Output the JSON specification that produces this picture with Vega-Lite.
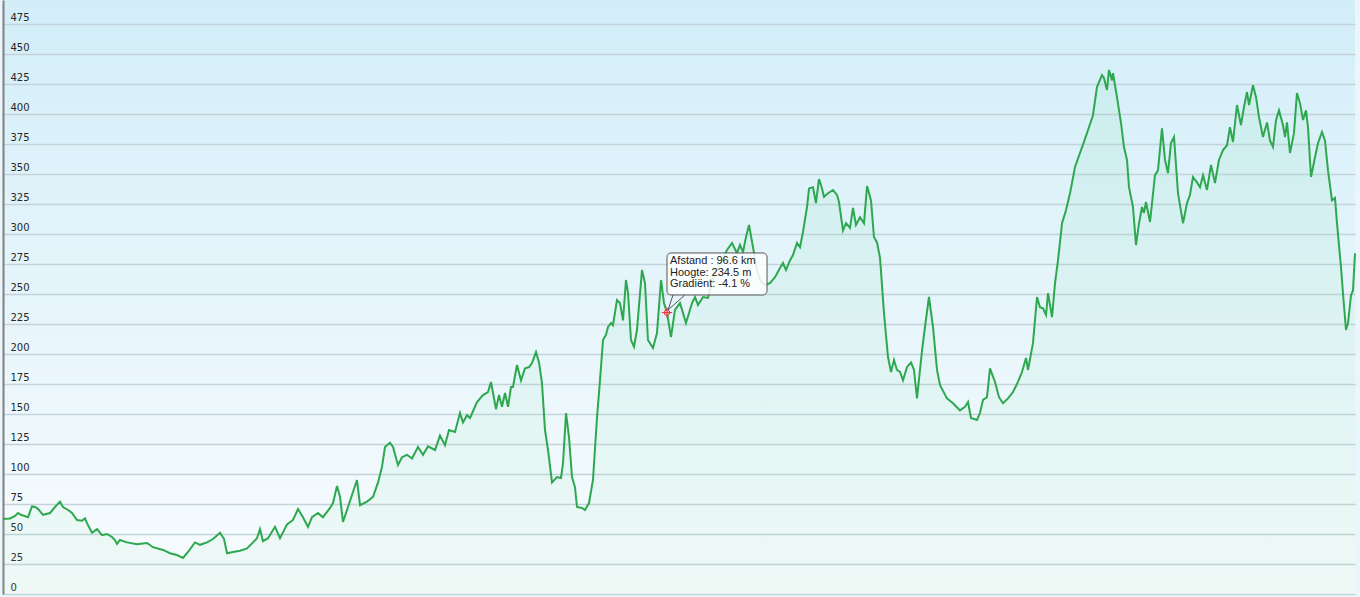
{
  "$schema": "https://vega.github.io/schema/vega-lite/v6.json",
  "width": 1352,
  "height": 594,
  "autosize": {"type": "none"},
  "padding": {"left": 3, "top": 0, "right": 5, "bottom": 3},
  "background": "#eaf6fb",
  "config": {
    "view": {"stroke": null, "fill": {"gradient": "linear", "x1": 0, "y1": 0, "x2": 0, "y2": 1, "stops": [{"offset": 0, "color": "#d2eef9"}, {"offset": 0.5, "color": "#e6f5fb"}, {"offset": 1, "color": "#f8fcfe"}]}},
    "axisY": {"labelOverlap": false, "labelBound": false, "domain": true, "domainColor": "#808080", "domainWidth": 2, "ticks": false, "tickSize": 0,
      "labelAlign": "left", "labelBaseline": "alphabetic", "labelPadding": -7, "labelOffset": -4,
      "labelFont": "DejaVu Sans", "labelFontSize": 10, "labelColor": "#262626",
      "grid": true, "gridColor": "#c4d3d9", "gridWidth": 1.5, "title": null}
  },
  "datasets": {
    "profile": [
      {"km":0,"h":62.5},{"km":1.02,"h":63},{"km":1.75,"h":65},{"km":2.18,"h":67.5},{"km":2.62,"h":66},{"km":3.64,"h":64},{"km":4.22,"h":73},{"km":4.66,"h":72.5},{"km":5.09,"h":71},{"km":5.82,"h":66},{"km":6.84,"h":67.5},{"km":7.56,"h":72.5},{"km":8.29,"h":77},{"km":8.73,"h":72.5},{"km":9.46,"h":70},{"km":10.04,"h":67.5},{"km":10.77,"h":61.7},{"km":11.49,"h":61},{"km":11.93,"h":63},{"km":12.22,"h":59},{"km":12.95,"h":51},{"km":13.68,"h":54},{"km":14.40,"h":49},{"km":15.13,"h":50},{"km":15.86,"h":47.5},{"km":16.29,"h":45},{"km":16.58,"h":41.7},{"km":17.02,"h":45},{"km":18.04,"h":43},{"km":19.49,"h":41.5},{"km":20.95,"h":42.5},{"km":21.82,"h":39},{"km":23.28,"h":36.7},{"km":24.30,"h":34},{"km":25.31,"h":32.5},{"km":26.19,"h":30},{"km":26.91,"h":35},{"km":27.93,"h":43},{"km":28.66,"h":41},{"km":29.68,"h":43},{"km":30.55,"h":45.8},{"km":31.57,"h":51},{"km":32.15,"h":46},{"km":32.59,"h":34},{"km":33.46,"h":35},{"km":34.48,"h":36},{"km":35.50,"h":38},{"km":36.37,"h":43},{"km":36.95,"h":46.5},{"km":37.39,"h":54},{"km":37.82,"h":44},{"km":38.55,"h":46.5},{"km":39.57,"h":56},{"km":40.30,"h":46.5},{"km":41.32,"h":58},{"km":42.19,"h":61.7},{"km":42.92,"h":70.8},{"km":43.64,"h":64},{"km":44.37,"h":56},{"km":44.95,"h":64},{"km":45.83,"h":67.5},{"km":46.55,"h":64},{"km":47.57,"h":71.7},{"km":48.01,"h":75.8},{"km":48.59,"h":90},{"km":49.03,"h":81},{"km":49.46,"h":60},{"km":50.19,"h":72.5},{"km":50.92,"h":85},{"km":51.50,"h":95},{"km":51.94,"h":74},{"km":52.95,"h":77},{"km":53.83,"h":81},{"km":54.56,"h":93},{"km":55.14,"h":106},{"km":55.57,"h":122.5},{"km":56.30,"h":126},{"km":56.74,"h":122.5},{"km":57.46,"h":107.5},{"km":58.05,"h":114},{"km":58.77,"h":116},{"km":59.50,"h":113},{"km":60.37,"h":122.5},{"km":61.10,"h":116},{"km":61.83,"h":123},{"km":62.85,"h":120},{"km":63.57,"h":132},{"km":64.30,"h":124},{"km":64.88,"h":136.7},{"km":65.76,"h":135},{"km":66.48,"h":150.8},{"km":66.92,"h":143},{"km":67.50,"h":149},{"km":67.94,"h":146.7},{"km":68.96,"h":160},{"km":69.83,"h":165.8},{"km":70.56,"h":168.3},{"km":70.99,"h":176.7},{"km":71.29,"h":167.5},{"km":71.72,"h":154},{"km":72.16,"h":165.8},{"km":72.59,"h":156},{"km":73.03,"h":167.5},{"km":73.47,"h":156},{"km":73.90,"h":172.5},{"km":74.19,"h":172.5},{"km":74.78,"h":190.8},{"km":75.36,"h":178},{"km":75.94,"h":188},{"km":76.52,"h":189},{"km":76.96,"h":192.5},{"km":77.54,"h":201.7},{"km":77.98,"h":193},{"km":78.41,"h":175.8},{"km":78.85,"h":136.7},{"km":79.29,"h":120},{"km":79.87,"h":93},{"km":80.60,"h":97.5},{"km":81.18,"h":96.7},{"km":81.47,"h":109},{"km":81.91,"h":150.8},{"km":82.34,"h":131},{"km":82.78,"h":97.5},{"km":83.21,"h":89},{"km":83.51,"h":72.5},{"km":84.23,"h":71.7},{"km":84.67,"h":70},{"km":85.25,"h":75.8},{"km":85.83,"h":95},{"km":86.42,"h":147.5},{"km":86.85,"h":178},{"km":87.29,"h":211.7},{"km":87.72,"h":216},{"km":88.02,"h":222.5},{"km":88.45,"h":225.8},{"km":88.74,"h":224},{"km":89.32,"h":245},{"km":89.76,"h":242.5},{"km":90.20,"h":228},{"km":90.63,"h":261.7},{"km":90.93,"h":250.8},{"km":91.36,"h":211.7},{"km":91.80,"h":206},{"km":92.23,"h":220},{"km":92.96,"h":270},{"km":93.40,"h":259},{"km":93.83,"h":211.7},{"km":94.56,"h":205},{"km":95.14,"h":217.5},{"km":95.73,"h":261.7},{"km":96.16,"h":242.5},{"km":96.60,"h":234.5},{"km":97.18,"h":214},{"km":97.76,"h":236.7},{"km":98.49,"h":242.5},{"km":99.36,"h":225.8},{"km":100.24,"h":242.5},{"km":100.67,"h":247.5},{"km":101.11,"h":240.8},{"km":101.84,"h":247.5},{"km":102.56,"h":246.7},{"km":103.15,"h":260},{"km":103.58,"h":268},{"km":104.60,"h":278},{"km":105.33,"h":286.7},{"km":106.06,"h":292.5},{"km":106.78,"h":284},{"km":107.22,"h":290.8},{"km":107.66,"h":285},{"km":108.09,"h":297.5},{"km":108.53,"h":307.5},{"km":109.11,"h":289},{"km":109.69,"h":270},{"km":110.13,"h":261.7},{"km":110.86,"h":257.5},{"km":111.58,"h":259},{"km":112.31,"h":264},{"km":113.04,"h":271.7},{"km":113.47,"h":275.8},{"km":113.91,"h":270},{"km":114.49,"h":278},{"km":114.93,"h":282.5},{"km":115.51,"h":292.5},{"km":115.95,"h":289},{"km":116.38,"h":301.7},{"km":116.97,"h":322.5},{"km":117.26,"h":338},{"km":117.84,"h":339},{"km":118.27,"h":325.8},{"km":118.71,"h":345.8},{"km":119.15,"h":338},{"km":119.44,"h":331},{"km":120.02,"h":334},{"km":120.75,"h":336.7},{"km":121.33,"h":332.5},{"km":121.62,"h":326.7},{"km":122.20,"h":303},{"km":122.64,"h":309},{"km":123.22,"h":305},{"km":123.66,"h":321.7},{"km":124.09,"h":307.5},{"km":124.68,"h":314},{"km":125.26,"h":309},{"km":125.70,"h":340},{"km":126.28,"h":328},{"km":126.71,"h":297.5},{"km":127.15,"h":293},{"km":127.59,"h":280},{"km":128.17,"h":234},{"km":128.75,"h":197.5},{"km":129.19,"h":185},{"km":129.62,"h":195},{"km":130.06,"h":186.7},{"km":130.50,"h":185},{"km":130.93,"h":178},{"km":131.51,"h":189},{"km":132.10,"h":193},{"km":132.53,"h":186.7},{"km":132.97,"h":163},{"km":133.70,"h":203},{"km":134.13,"h":222.5},{"km":134.71,"h":247.5},{"km":135.30,"h":222.5},{"km":135.88,"h":186.7},{"km":136.32,"h":174},{"km":137.33,"h":163},{"km":138.21,"h":159},{"km":139.22,"h":153},{"km":139.95,"h":156},{"km":140.39,"h":160},{"km":140.82,"h":146.7},{"km":141.70,"h":145},{"km":142.13,"h":150.8},{"km":142.57,"h":161.7},{"km":143.15,"h":164},{"km":143.59,"h":188},{"km":144.32,"h":176.7},{"km":144.90,"h":164},{"km":145.48,"h":159},{"km":146.21,"h":163},{"km":146.93,"h":168.3},{"km":147.66,"h":176.7},{"km":148.24,"h":185},{"km":148.83,"h":196.7},{"km":149.12,"h":186.7},{"km":149.84,"h":209},{"km":150.43,"h":247.5},{"km":150.86,"h":239},{"km":151.30,"h":238},{"km":151.74,"h":232.5},{"km":152.03,"h":250.8},{"km":152.61,"h":230.8},{"km":153.05,"h":259},{"km":153.48,"h":278},{"km":154.07,"h":309},{"km":154.65,"h":320},{"km":155.23,"h":334},{"km":155.96,"h":355.8},{"km":156.68,"h":367.5},{"km":157.26,"h":376.7},{"km":157.85,"h":386.7},{"km":158.57,"h":399},{"km":159.15,"h":422.5},{"km":159.88,"h":432.5},{"km":160.17,"h":430},{"km":160.61,"h":420},{"km":160.90,"h":436.7},{"km":161.34,"h":428},{"km":161.48,"h":434},{"km":162.06,"h":414},{"km":162.65,"h":392.5},{"km":163.08,"h":372.5},{"km":163.52,"h":361.7},{"km":163.81,"h":339},{"km":164.39,"h":322.5},{"km":164.83,"h":290.8},{"km":165.27,"h":309},{"km":165.70,"h":322.5},{"km":165.99,"h":317.5},{"km":166.28,"h":326.7},{"km":166.87,"h":310},{"km":167.59,"h":349},{"km":168.03,"h":353},{"km":168.61,"h":388},{"km":169.05,"h":361.7},{"km":169.48,"h":350.8},{"km":169.92,"h":375.8},{"km":170.36,"h":380.8},{"km":170.94,"h":334},{"km":171.67,"h":309},{"km":172.25,"h":325.8},{"km":172.68,"h":332.5},{"km":173.12,"h":347.5},{"km":173.70,"h":343},{"km":174.14,"h":339},{"km":174.58,"h":349},{"km":175.16,"h":336.7},{"km":175.74,"h":357.5},{"km":176.32,"h":342.5},{"km":176.90,"h":361.7},{"km":177.49,"h":370},{"km":178.07,"h":374},{"km":178.50,"h":389},{"km":178.94,"h":376.7},{"km":179.52,"h":407.5},{"km":180.10,"h":390.8},{"km":180.54,"h":405.8},{"km":180.98,"h":418.3},{"km":181.27,"h":407.5},{"km":181.85,"h":424},{"km":182.29,"h":414},{"km":182.72,"h":397.5},{"km":183.30,"h":380.8},{"km":183.89,"h":393},{"km":184.32,"h":378},{"km":184.76,"h":372.5},{"km":185.20,"h":395},{"km":185.63,"h":403},{"km":186.21,"h":390.8},{"km":186.51,"h":380.8},{"km":186.80,"h":393},{"km":187.23,"h":367.5},{"km":187.81,"h":384},{"km":188.25,"h":417.5},{"km":188.69,"h":409},{"km":189.12,"h":395},{"km":189.56,"h":403},{"km":189.85,"h":389},{"km":190.29,"h":347.5},{"km":190.87,"h":364},{"km":191.31,"h":375.8},{"km":191.89,"h":385},{"km":192.32,"h":378},{"km":192.76,"h":353},{"km":193.34,"h":328},{"km":193.78,"h":330},{"km":194.07,"h":309},{"km":194.65,"h":272.5},{"km":194.94,"h":250.8},{"km":195.38,"h":220},{"km":195.67,"h":225.8},{"km":196.11,"h":249},{"km":196.40,"h":253},{"km":196.69,"h":284}
    ],
    "tipbox": [{"x1": 96.6, "x2": 111.15, "y1": 249.2, "y2": 284.2}],
    "tail": [{"tx": 97.47, "ty": 249.2, "o": 1}, {"tx": 96.75, "ty": 236.7, "o": 2}, {"tx": 99.21, "ty": 249.2, "o": 3}],
    "tiptext": [{"tx": 97.04, "ty": 282.3, "label": "Afstand : 96.6 km\nHoogte: 234.5 m\nGradiënt: -4.1 %"}],
    "marker": [{"km": 96.6, "h": 234.5}]
  },
  "layer": [
    {
      "data": {"name": "profile"},
      "mark": {
        "type": "area",
        "color": {"gradient": "linear", "x1": 0, "y1": 0, "x2": 0, "y2": 1, "stops": [{"offset": 0, "color": "rgba(110,215,160,0.16)"}, {"offset": 1, "color": "rgba(140,225,170,0.12)"}]},
        "line": {"color": "#2ea84f", "strokeWidth": 2}
      },
      "encoding": {
        "x": {"field": "km", "type": "quantitative", "scale": {"domain": [0, 196.69], "nice": false, "zero": false}, "axis": null},
        "y": {"field": "h", "type": "quantitative", "scale": {"domain": [0, 495], "nice": false},
          "axis": {"values": [0,25,50,75,100,125,150,175,200,225,250,275,300,325,350,375,400,425,450,475]}}
      }
    },
    {
      "data": {"name": "tipbox"},
      "mark": {"type": "rect", "fill": "white", "fillOpacity": 0.85, "stroke": "#555555", "strokeWidth": 1, "cornerRadius": 4},
      "encoding": {
        "x": {"field": "x1", "type": "quantitative", "axis": null},
        "x2": {"field": "x2"},
        "y": {"field": "y1", "type": "quantitative", "axis": {"values": [0,25,50,75,100,125,150,175,200,225,250,275,300,325,350,375,400,425,450,475]}},
        "y2": {"field": "y2"}
      }
    },
    {
      "data": {"name": "tail"},
      "mark": {"type": "line", "color": "#555555", "strokeWidth": 1},
      "encoding": {
        "x": {"field": "tx", "type": "quantitative", "axis": null},
        "y": {"field": "ty", "type": "quantitative", "axis": {"values": [0,25,50,75,100,125,150,175,200,225,250,275,300,325,350,375,400,425,450,475]}},
        "order": {"field": "o"}
      }
    },
    {
      "data": {"name": "tiptext"},
      "mark": {"type": "text", "align": "left", "baseline": "top", "lineBreak": "\n", "lineHeight": 11.5, "font": "Liberation Sans", "fontSize": 11, "color": "#222222"},
      "encoding": {
        "x": {"field": "tx", "type": "quantitative", "axis": null},
        "y": {"field": "ty", "type": "quantitative", "axis": {"values": [0,25,50,75,100,125,150,175,200,225,250,275,300,325,350,375,400,425,450,475]}},
        "text": {"field": "label"}
      }
    },
    {
      "data": {"name": "marker"},
      "mark": {"type": "point", "shape": "circle", "size": 30, "filled": true, "fill": "#f7c6cc", "stroke": "#e0303c", "strokeWidth": 1, "opacity": 1},
      "encoding": {
        "x": {"field": "km", "type": "quantitative", "axis": null},
        "y": {"field": "h", "type": "quantitative", "axis": {"values": [0,25,50,75,100,125,150,175,200,225,250,275,300,325,350,375,400,425,450,475]}}
      }
    },
    {
      "data": {"name": "marker"},
      "mark": {"type": "point", "shape": "M-1,0L1,0M0,-1L0,1", "size": 110, "filled": false, "stroke": "#e0303c", "strokeWidth": 1, "opacity": 1},
      "encoding": {
        "x": {"field": "km", "type": "quantitative", "axis": null},
        "y": {"field": "h", "type": "quantitative", "axis": {"values": [0,25,50,75,100,125,150,175,200,225,250,275,300,325,350,375,400,425,450,475]}}
      }
    }
  ]
}
